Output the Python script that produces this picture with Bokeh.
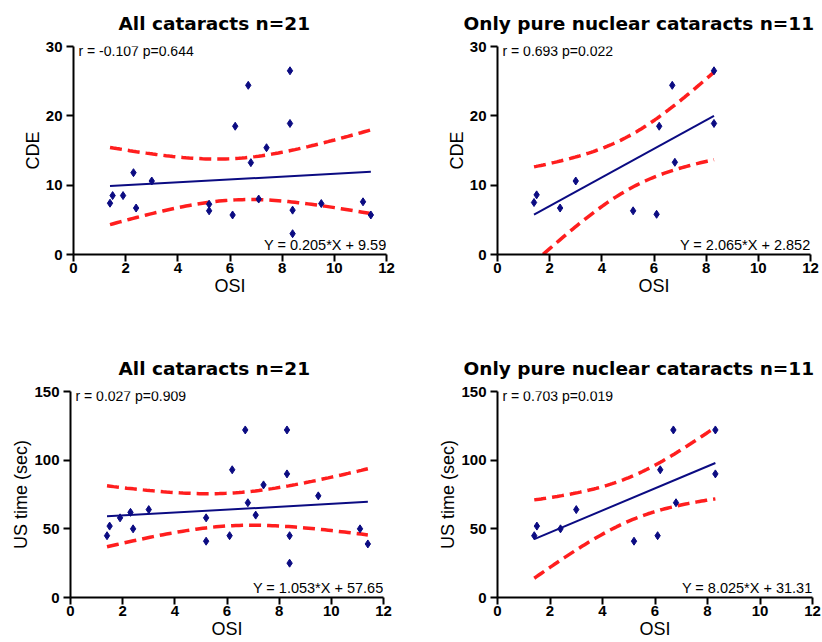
import numpy as np
from bokeh.plotting import figure
from bokeh.models import Range1d, Label
from bokeh.layouts import column, row
from bokeh.embed import file_html
from bokeh.resources import INLINE

# ---------------- data ----------------
osi_all = [1.4, 1.5, 1.9, 2.3, 2.4, 3.0, 5.2, 5.2, 6.1, 6.2, 6.7, 6.8, 7.1, 7.4,
           8.3, 8.3, 8.4, 8.4, 9.5, 11.1, 11.4]
cde_all = [7.4, 8.5, 8.5, 11.8, 6.7, 10.6, 7.25, 6.3, 5.7, 18.5, 24.4, 13.25, 8.0, 15.4,
           26.5, 18.9, 6.4, 3.0, 7.35, 7.6, 5.7]
us_all = [45, 52, 58, 62, 50, 64, 58, 41, 45, 93, 122, 69, 60, 82,
          122, 90, 45, 25, 74, 50, 39]

osi_pure = [1.4, 1.5, 2.4, 3.0, 5.2, 6.1, 6.2, 6.7, 6.8, 8.3, 8.3]
cde_pure = [7.5, 8.6, 6.7, 10.6, 6.3, 5.8, 18.5, 24.4, 13.3, 26.5, 18.9]
us_pure = [45, 52, 50, 64, 41, 45, 93, 122, 69, 122, 90]

# regression equations printed on the chart (slope, intercept)
fit_cde_all = (0.205, 9.59)
fit_cde_pure = (2.065, 2.852)
fit_us_all = (1.053, 57.65)
fit_us_pure = (8.025, 31.31)

stats_texts = ["r = -0.107 p=0.644", "r = 0.693 p=0.022",
               "r = 0.027 p=0.909", "r = 0.703 p=0.019"]
eq_texts = ["Y = 0.205*X + 9.59", "Y = 2.065*X + 2.852",
            "Y = 1.053*X + 57.65", "Y = 8.025*X + 31.31"]
titles = ["All cataracts n=21", "Only pure nuclear cataracts n=11",
          "All cataracts n=21", "Only pure nuclear cataracts n=11"]
x_ticks = [0, 2, 4, 6, 8, 10, 12]
cde_ticks = [0, 10, 20, 30]
us_ticks = [0, 50, 100, 150]
t95 = {21: 2.093, 11: 2.262}   # two-sided 95% t quantiles (df = n-2)

NAVY = "#0b0b82"
RED = "#ff1e1e"


def panel(x, y, fit, ylab, yticks, title, stats, eq, width, height,
          bl, br, bt, bb, title_offset):
    ymax = yticks[-1]
    p = figure(width=width, height=height, output_backend="svg",
               toolbar_location=None, x_range=Range1d(0, 12),
               y_range=Range1d(0, ymax), min_border_left=bl,
               min_border_right=br, min_border_top=bt, min_border_bottom=bb,
               title=title)
    p.grid.visible = False
    p.outline_line_color = None
    p.background_fill_color = "white"
    p.border_fill_color = "white"

    p.title.text_font = "DejaVu Sans"
    p.title.text_font_style = "bold"
    p.title.text_font_size = "18.5px"
    p.title.text_color = "black"
    p.title.align = "left"
    p.title.vertical_align = "top"
    p.title.offset = title_offset
    p.title.standoff = 22

    for ax in (p.xaxis[0], p.yaxis[0]):
        ax.axis_line_width = 2
        ax.axis_line_color = "black"
        ax.major_tick_line_width = 2
        ax.major_tick_line_color = "black"
        ax.major_tick_out = 7
        ax.major_tick_in = 0
        ax.minor_tick_out = 0
        ax.minor_tick_in = 0
        ax.major_label_text_font = "Liberation Sans"
        ax.major_label_text_font_style = "bold"
        ax.major_label_text_font_size = "15px"
        ax.major_label_text_color = "black"
        ax.axis_label_text_font = "Liberation Sans"
        ax.axis_label_text_font_style = "normal"
        ax.axis_label_text_font_size = "18px"
        ax.axis_label_text_color = "black"
        ax.axis_label_standoff = 0
    p.xaxis.ticker = x_ticks
    p.yaxis.ticker = yticks
    p.xaxis.major_label_standoff = 1
    p.yaxis.major_label_standoff = 4
    p.xaxis.axis_label = "OSI"
    p.yaxis.axis_label = ylab

    xa = np.array(x, dtype=float)
    ya = np.array(y, dtype=float)
    n = len(xa)
    slope, icpt = fit
    resid = ya - (slope * xa + icpt)
    s = np.sqrt(np.sum(resid ** 2) / (n - 2))
    xbar = xa.mean()
    sxx = np.sum((xa - xbar) ** 2)
    xs = np.linspace(xa.min(), xa.max(), 80)
    yfit = slope * xs + icpt
    half = t95[n] * s * np.sqrt(1.0 / n + (xs - xbar) ** 2 / sxx)
    lo = yfit - half
    lo_mask = lo >= 0

    p.line(xs, yfit + half, line_color=RED, line_width=3.5, line_dash="12 6")
    p.line(xs[lo_mask], lo[lo_mask], line_color=RED, line_width=3.5,
           line_dash="12 6")
    p.line([xa.min(), xa.max()], [slope * xa.min() + icpt, slope * xa.max() + icpt],
           line_color=NAVY, line_width=2)
    p.scatter(x, y, marker="diamond", size=8, color=NAVY)

    p.add_layout(Label(x=0, y=ymax, x_offset=5, y_offset=-4, text=stats,
                       text_align="left", text_baseline="alphabetic",
                       text_font="Liberation Sans", text_font_size="14px",
                       text_color="black"))
    p.add_layout(Label(x=12, y=0, x_offset=0, y_offset=2, text=eq,
                       text_align="right", text_baseline="bottom",
                       text_font="Liberation Sans", text_font_size="14.5px",
                       text_color="black"))
    return p


p1 = panel(osi_all, cde_all, fit_cde_all, "CDE", cde_ticks, titles[0],
           stats_texts[0], eq_texts[0], 411, 320, 73, 25, 46, 66, 45)
p2 = panel(osi_pure, cde_pure, fit_cde_pure, "CDE", cde_ticks, titles[1],
           stats_texts[1], eq_texts[1], 410, 320, 86, 11, 46, 66, -34)
p3 = panel(osi_all, us_all, fit_us_all, "US time (sec)", us_ticks, titles[2],
           stats_texts[2], eq_texts[2], 411, 321, 70, 28, 71, 41, 48)
p4 = panel(osi_pure, us_pure, fit_us_pure, "US time (sec)", us_ticks, titles[3],
           stats_texts[3], eq_texts[3], 410, 321, 86, 9, 71, 41, -34)

layout = column(row(p1, p2), row(p3, p4))
open("out.html", "w").write(file_html(layout, INLINE))
